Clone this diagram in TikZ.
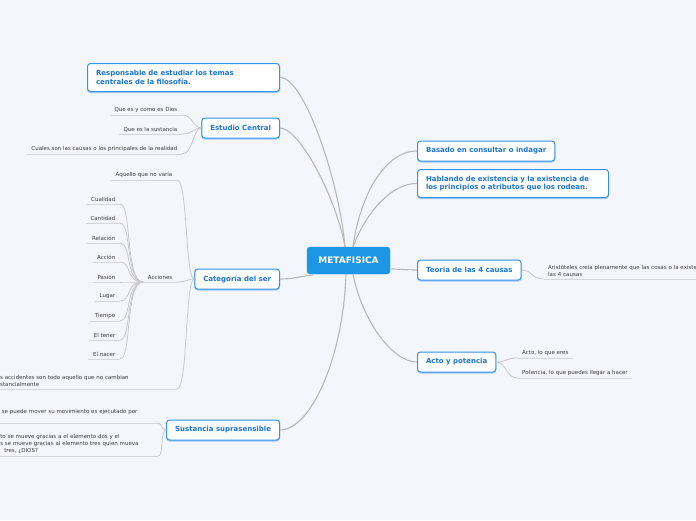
\documentclass[tikz,border=0pt]{standalone}
\usepackage{fontspec}
\setmainfont{DejaVu Sans}
\definecolor{bg}{HTML}{F3F6FD}
\definecolor{boxborder}{HTML}{3590E8}
\definecolor{boxtext}{HTML}{1B74D6}
\definecolor{centerfill}{HTML}{1E96E6}
\definecolor{boxshadow}{HTML}{A6CEF4}
\definecolor{mainline}{HTML}{B8B8B8}
\definecolor{subline}{HTML}{C6C8CD}
\definecolor{ulinec}{HTML}{D3D6DC}
\definecolor{leaftxt}{HTML}{3A3A3A}
\tikzset{
  mainbox/.style={draw=boxborder, fill=white, rounded corners=3pt, line width=1pt,
    text=boxtext, font=\fontsize{7}{8.5}\selectfont\bfseries, inner xsep=8.5pt,
    inner ysep=3pt, minimum height=20pt,
    preaction={fill=boxshadow, draw=boxshadow, transform canvas={yshift=-1pt}}},
  centerbox/.style={fill=centerfill, draw=centerfill, rounded corners=3pt, text=white,
    font=\fontsize{9}{10}\selectfont\bfseries, minimum width=83pt, minimum height=27pt},
  leaf/.style={text=leaftxt, font=\fontsize{5.5}{6.9}\selectfont, inner xsep=4.5pt,
    inner ysep=2pt, align=left},
  mainconn/.style={draw=mainline, line width=1.1pt},
  subconn/.style={draw=subline, line width=0.8pt},
  uline/.style={draw=ulinec, line width=1pt}
}
\begin{document}
\begin{tikzpicture}[x=1pt,y=-1pt]
\useasboundingbox (0,0) rectangle (696,520);
\fill[bg] (0,0) rectangle (696,520);

% center
\node[centerbox] (c) at (348.5,260.5) {METAFISICA};
\coordinate (cTL) at (345,247);
\coordinate (cTR) at (353,247);
\coordinate (cBL) at (346,274);
\coordinate (cBR) at (353,274);
\coordinate (cL) at (313,275);
\coordinate (cR) at (391,269);

% main nodes
\node[mainbox, anchor=north east, text width=175pt, align=left, minimum height=28pt] (r) at (280,63)
  {Responsable de estudiar los temas\\centrales de la filosofía.};
\node[mainbox, anchor=east] (ec) at (280,128) {Estudio Central};
\node[mainbox, anchor=east] (cat) at (280,279) {Categoría del ser};
\node[mainbox, anchor=east] (ss) at (280,430) {Sustancia suprasensible};
\node[mainbox, anchor=west] (b) at (417,151) {Basado en consultar o indagar};
\node[mainbox, anchor=north west, text width=174pt, align=left, minimum height=28pt] (h) at (417,169)
  {Hablando de existencia y la existencia de\\los principios o atributos que los rodean.};
\node[mainbox, anchor=west] (t) at (417,270) {Teoria de las 4 causas};
\node[mainbox, anchor=west] (a) at (417,362) {Acto y potencia};

% main connectors
\draw[mainconn] (r.east) .. controls (305,77) and (340,185) .. (cTL);
\draw[mainconn] (ec.east) .. controls (300,128) and (337,200) .. (cTL);
\draw[mainconn] (cat.east) .. controls (295,279) and (300,276) .. (cL);
\draw[mainconn] (ss.east) .. controls (310,430) and (343,360) .. (cBL);
\draw[mainconn] (b.west) .. controls (385,151) and (360,195) .. (cTR);
\draw[mainconn] (h.west) .. controls (392,183) and (366,212) .. (cTR);
\draw[mainconn] (t.west) .. controls (405,270) and (400,269) .. (cR);
\draw[mainconn] (a.west) .. controls (392,362) and (362,320) .. (cBR);

% Estudio Central leaves
\node[leaf, anchor=south east] (e1) at (182,115) {Que es y como es Dios};
\node[leaf, anchor=south east] (e2) at (182,134) {Que es la sustancia};
\node[leaf, anchor=south east] (e3) at (182,154) {Cuales son las causas o los principales de la realidad};
\draw[subconn] (ec.west) .. controls (193,128) and (193,115) .. (e1.south east);
\draw[subconn] (ec.west) .. controls (193,128) and (193,134) .. (e2.south east);
\draw[subconn] (ec.west) .. controls (193,128) and (193,154) .. (e3.south east);

% Categoria leaves
\node[leaf, anchor=south east] (k0) at (177,180) {Aquello que no varía};
\node[leaf, anchor=south east] (kacc) at (177,282) {Acciones};
\node[leaf, anchor=south east, text width=178.5pt] (kla) at (177,389)
  {Los accidentes son todo aquello que no cambian\\sustancialmente};
\draw[subconn] (cat.west) .. controls (185,279) and (188,180) .. (k0.south east);
\draw[subconn] (cat.west) .. controls (187,279) and (187,282) .. (kacc.south east);
\draw[subconn] (cat.west) .. controls (185,279) and (188,389) .. (kla.south east);

% Acciones leaves
\node[leaf, anchor=south east] (q1) at (120,204) {Cualidad};
\node[leaf, anchor=south east] (q2) at (120,223) {Cantidad};
\node[leaf, anchor=south east] (q3) at (120,243) {Relación};
\node[leaf, anchor=south east] (q4) at (120,262) {Acción};
\node[leaf, anchor=south east] (q5) at (120,282) {Pasión};
\node[leaf, anchor=south east] (q6) at (120,301) {Lugar};
\node[leaf, anchor=south east] (q7) at (120,321) {Tiempo};
\node[leaf, anchor=south east] (q8) at (120,340) {El tener};
\node[leaf, anchor=south east] (q9) at (120,359) {El nacer};
\foreach \q/\yy in {q1/204,q2/223,q3/243,q4/262,q5/282,q6/301,q7/321,q8/340,q9/359}
  \draw[subconn] (kacc.south west) .. controls (125,282) and (132,\yy) .. (\q.south east);

% Sustancia leaves
\node[leaf, anchor=south east, text width=149.5pt] (s1) at (156,423)
  {se puede mover su movimiento es ejecutado por\\\mbox{}};
\node[leaf, anchor=south east, text width=153pt] (s2) at (158,456)
  {to se mueve gracias a el elemento dos y el\\s se mueve gracias al elemento tres quien mueva\\\hspace*{4pt}tres, ¿DIOS?};
\draw[subconn] (ss.west) .. controls (160,430) and (164,423) .. (s1.south east);
\draw[subconn] (ss.west) .. controls (160,430) and (164,456) .. (s2.south east);

% Teoria leaf
\node[leaf, anchor=south west, text width=170pt] (t1) at (543.5,279)
  {Aristóteles creía plenamente que las cosas o la existencia\\las 4 causas};
\draw[subconn] (t.east) .. controls (532,270) and (532,279) .. (t1.south west);

% Acto leaves
\node[leaf, anchor=south west] (a1) at (517.5,358) {Acto, lo que eres};
\node[leaf, anchor=south west] (a2) at (517.5,378) {Potencia, lo que puedes llegar a hacer};
\draw[subconn] (a.east) .. controls (506,362) and (506,358) .. (a1.south west);
\draw[subconn] (a.east) .. controls (506,362) and (506,378) .. (a2.south west);

% underlines
\foreach \n in {e1,e2,e3,k0,kacc,kla,q1,q2,q3,q4,q5,q6,q7,q8,q9,s1,s2,t1,a1,a2}
  \draw[uline] (\n.south west) -- (\n.south east);
\end{tikzpicture}
\end{document}
